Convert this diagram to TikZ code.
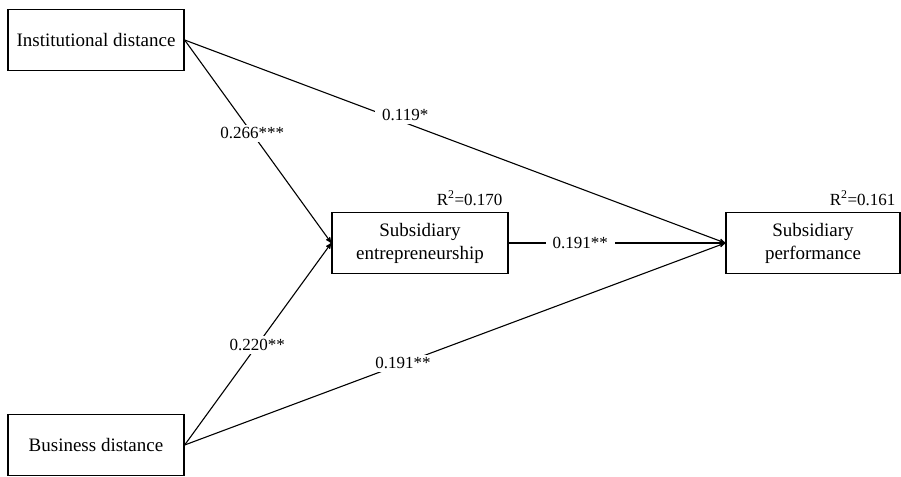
\documentclass[tikz,border=0pt]{standalone}
\usepackage{fontspec}
\setmainfont{Liberation Serif}
\usetikzlibrary{arrows}

\begin{document}
\begin{tikzpicture}[x=1pt, y=-1pt, >=stealth', line width=1.1pt]
\tikzstyle{box}=[draw, rectangle, line width=1.3pt, minimum width=176pt, minimum height=61pt, align=center, inner sep=0pt, font=\fontsize{19}{23}\selectfont]
\tikzstyle{coef}=[fill=white, inner xsep=7pt, inner ysep=3pt, font=\fontsize{17}{20}\selectfont]
\tikzstyle{rsq}=[inner sep=0pt, font=\fontsize{17}{20}\selectfont]

\useasboundingbox (0,0) rectangle (901,476);

\node[box] (Inst) at (96,40) {Institutional distance};
\node[box] (Bus) at (96,445) {Business distance};
\node[box] (Ent) at (420,243) {Subsidiary\\entrepreneurship};
\node[box, minimum width=174pt] (Perf) at (813,243) {Subsidiary\\performance};

\node[rsq, anchor=base east] (EntR) at (503,205) {R\textsuperscript{2}=0.170};
\node[rsq, anchor=base east] (PerfR) at (896,205) {R\textsuperscript{2}=0.161};

\draw[->] (Inst.east) -- node[coef, pos=0.46] (cIE) {0.266***} (Ent.west);
\draw[->] (Inst.east) -- node[coef, pos=0.408, yshift=8pt] (cIP) {0.119*} (Perf.west);
\draw[->] (Bus.east) -- node[coef, pos=0.495] (cBE) {0.220**} (Ent.west);
\draw[->] (Bus.east) -- node[coef, pos=0.404] (cBP) {0.191**} (Perf.west);
\draw[->] (Ent.east) -- node[coef, pos=0.33] (cEP) {0.191**} (Perf.west);

\end{tikzpicture}
\end{document}
